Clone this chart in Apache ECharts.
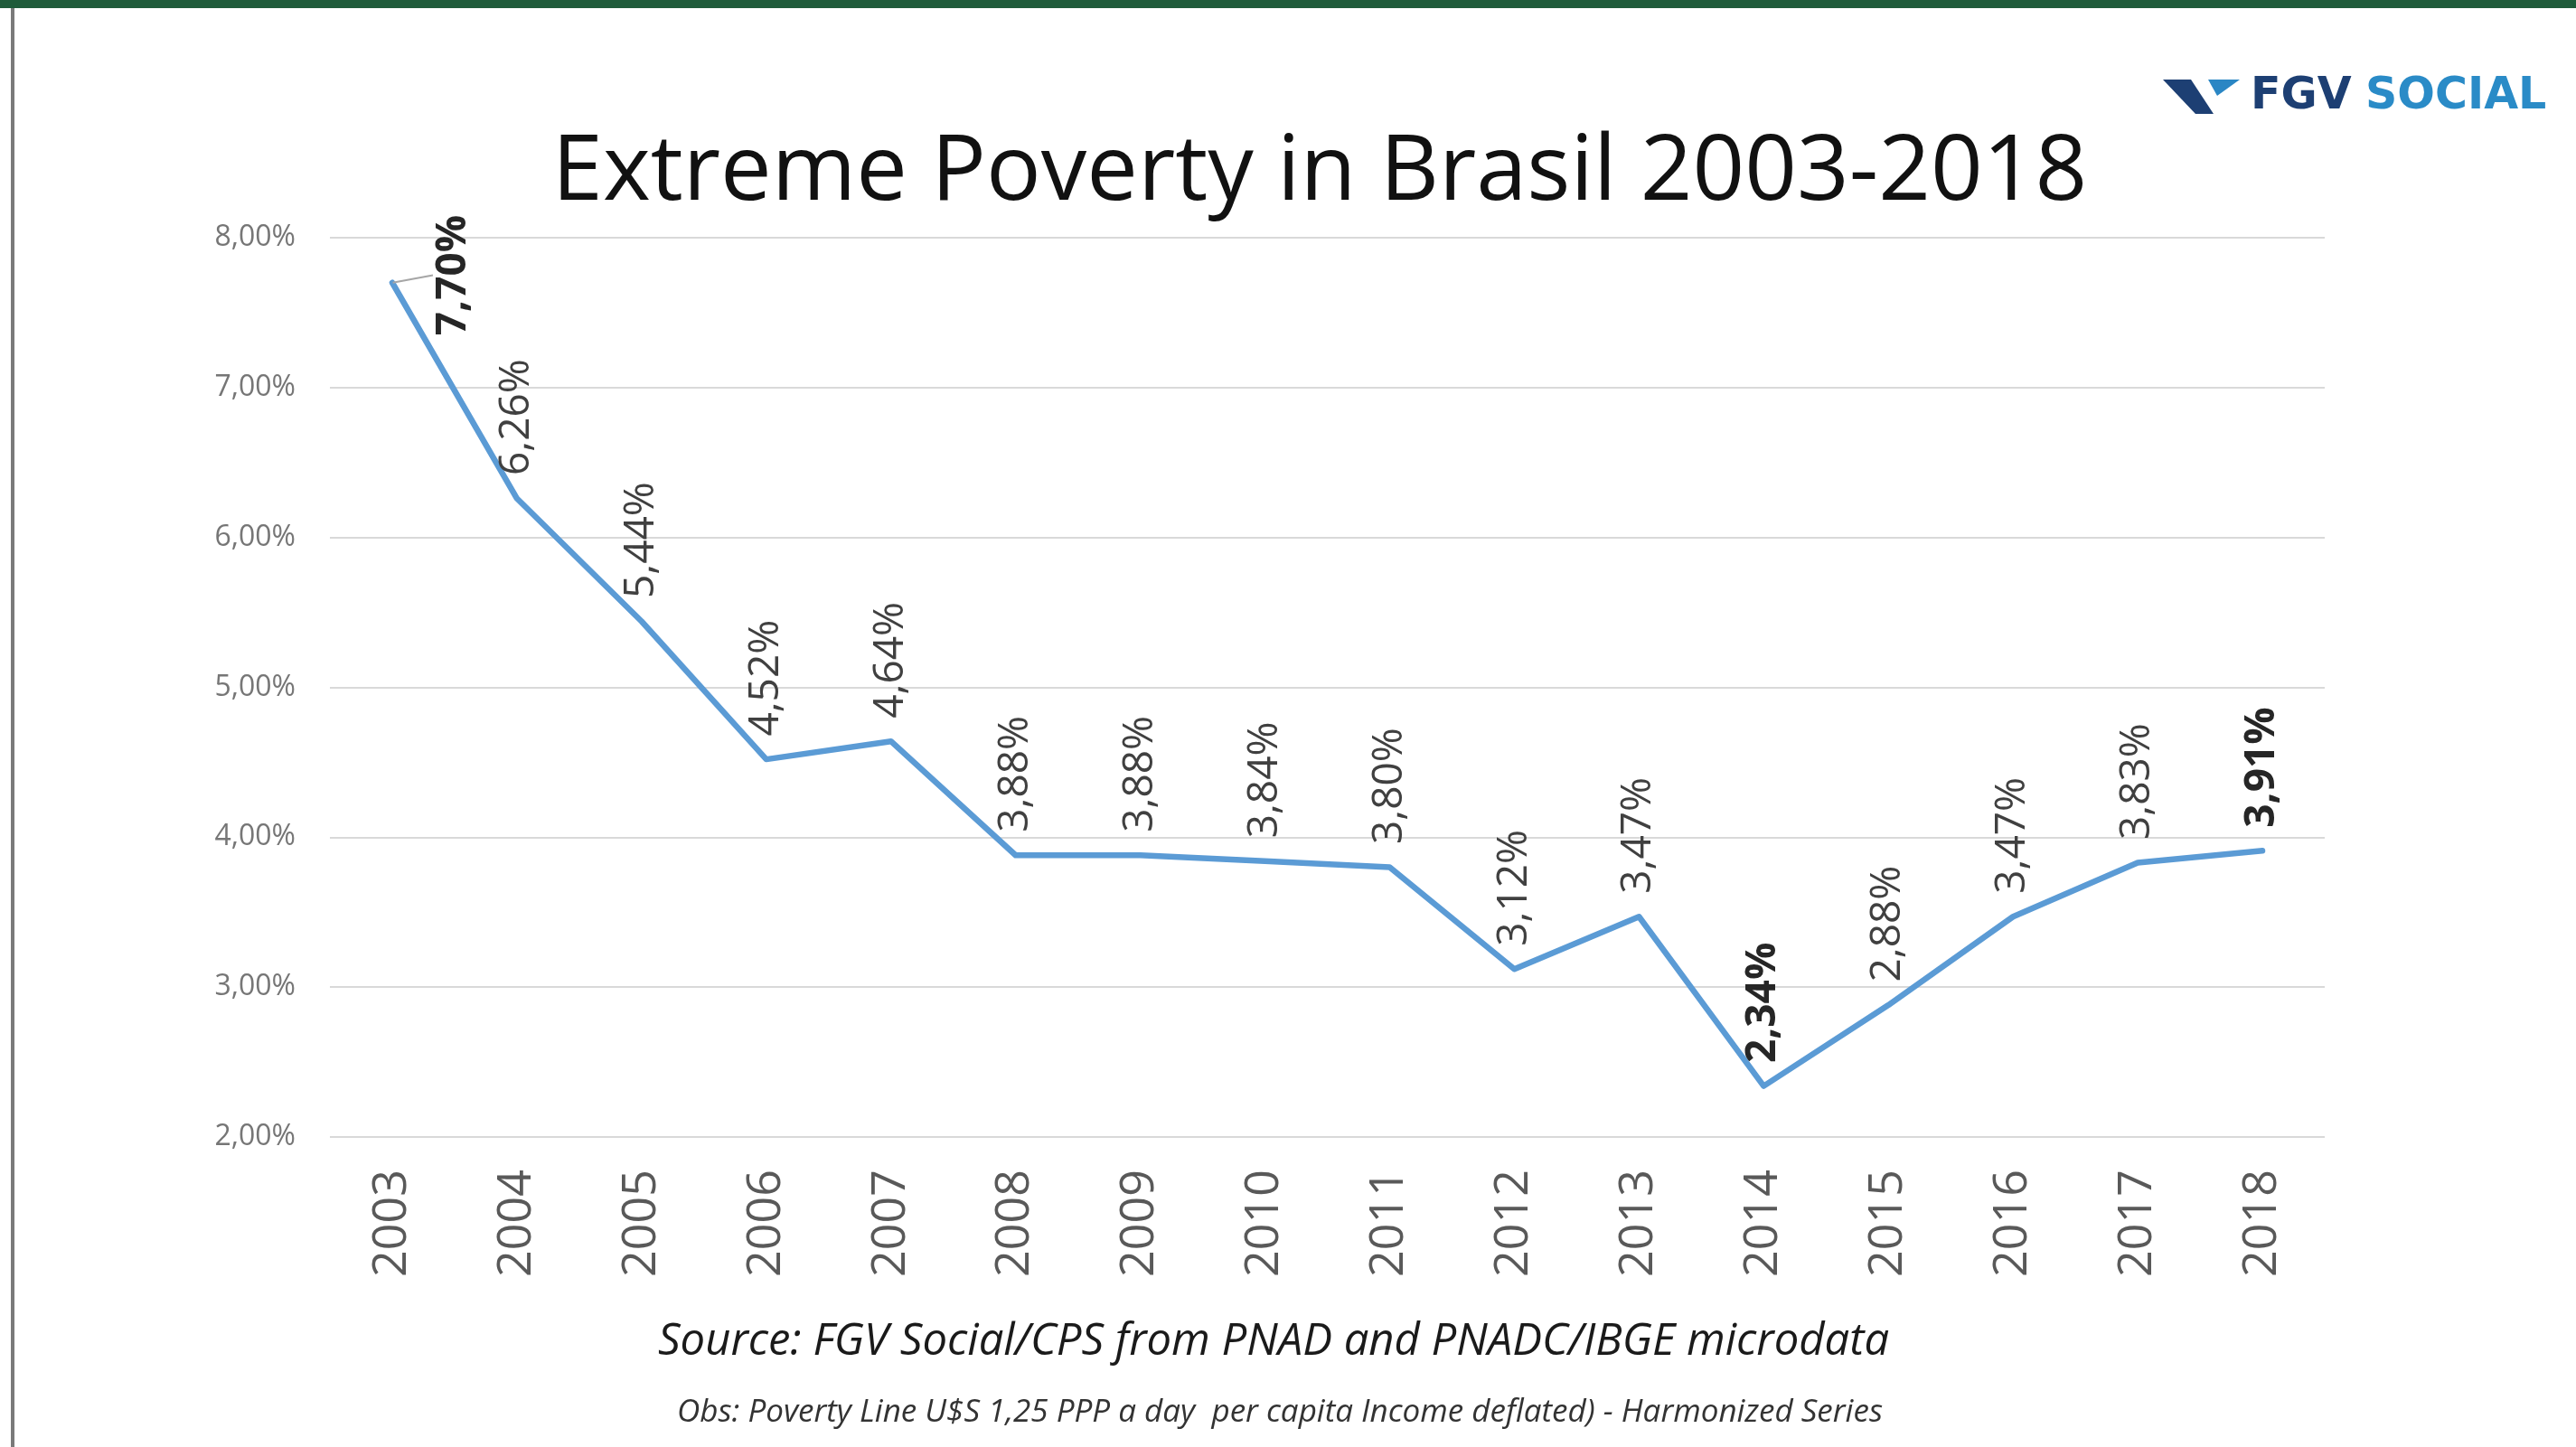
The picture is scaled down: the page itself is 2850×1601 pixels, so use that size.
<!DOCTYPE html>
<html>
<head>
<meta charset="utf-8">
<script src="https://cdn.jsdelivr.net/npm/echarts@6/dist/echarts.min.js"></script>
<style>
html,body{margin:0;padding:0;background:#fff;}
#chart{width:2850px;height:1601px;}
</style>
</head>
<body>
<div id="chart"></div>
<script>
const years = ['2003','2004','2005','2006','2007','2008','2009','2010','2011','2012','2013','2014','2015','2016','2017','2018'];
const poverty = [7.70, 6.26, 5.44, 4.52, 4.64, 3.88, 3.88, 3.84, 3.80, 3.12, 3.47, 2.34, 2.88, 3.47, 3.83, 3.91];
const boldLabels = [0, 11, 15];
const yTicks = [2, 3, 4, 5, 6, 7, 8];

const titleText = 'Extreme Poverty in Brasil 2003-2018';
const sourceText = 'Source: FGV Social/CPS from PNAD and PNADC/IBGE microdata';
const obsText = 'Obs: Poverty Line U$S 1,25 PPP a day  per capita Income deflated) - Harmonized Series';

const fmt = v => v.toFixed(2).replace('.', ',') + '%';

const seriesData = poverty.map((v, i) => {
  const item = { value: v };
  if (boldLabels.indexOf(i) >= 0) {
    item.label = { fontWeight: 'bold', color: '#262626' };
  }
  if (i === 0) {
    item.labelLine = { show: true, smooth: 0.8, lineStyle: { color: '#a6a6a6', width: 2 } };
  }
  return item;
});

const chart = echarts.init(document.getElementById('chart'), null, { renderer: 'canvas' });
chart.setOption({
  backgroundColor: '#ffffff',
  animation: false,
  grid: { left: 365, right: 278, top: 263, bottom: 343, containLabel: false },
  xAxis: {
    type: 'category',
    data: years,
    boundaryGap: true,
    axisLine: { show: false },
    axisTick: { show: false },
    axisLabel: {
      rotate: 90,
      margin: 36,
      fontFamily: 'Open Sans',
      fontSize: 52,
      color: '#595959'
    }
  },
  yAxis: {
    type: 'value',
    min: yTicks[0],
    max: yTicks[yTicks.length - 1],
    interval: 1,
    axisLine: { show: false },
    axisTick: { show: false },
    splitLine: { show: true, lineStyle: { color: '#d9d9d9', width: 2 } },
    axisLabel: {
      margin: 38,
      fontFamily: 'Open Sans',
      fontSize: 32,
      color: '#767676',
      formatter: v => fmt(v)
    }
  },
  series: [{
    type: 'line',
    data: seriesData,
    symbol: 'circle',
    symbolSize: 1,
    showSymbol: true,
    lineStyle: { color: '#5b9bd5', width: 6.5, cap: 'round', join: 'round' },
    itemStyle: { color: '#5b9bd5' },
    labelLine: { show: false },
    label: {
      show: true,
      position: 'top',
      distance: 25,
      rotate: 90,
      align: 'left',
      verticalAlign: 'middle',
      fontFamily: 'Open Sans',
      fontSize: 46,
      color: '#404040',
      formatter: p => fmt(p.value)
    },
    labelLayout: function (p) {
      if (p.dataIndex === 0) {
        return { dx: -84, dy: 68 };
      }
      return {};
    }
  }],
  graphic: [
    { type: 'rect', left: 0, top: 0, shape: { width: 2850, height: 9 }, style: { fill: '#1f5b3a' }, silent: true },
    { type: 'rect', left: 12, top: 9, shape: { width: 4, height: 1592 }, style: { fill: '#7a7a7a' }, silent: true },
    { type: 'text', x: 1460, y: 192, style: { text: titleText, font: '101px "Open Sans"', fill: '#111111', textAlign: 'center', textVerticalAlign: 'middle' } },
    { type: 'text', x: 1409, y: 1485, style: { text: sourceText, font: 'italic 49px "Open Sans"', fill: '#1a1a1a', textAlign: 'center', textVerticalAlign: 'middle' } },
    { type: 'text', x: 1416, y: 1563, style: { text: obsText, font: 'italic 35px "Open Sans"', fill: '#333333', textAlign: 'center', textVerticalAlign: 'middle' } },
    { type: 'polygon', shape: { points: [[2393, 88], [2424, 88], [2449, 126], [2429, 126]] }, style: { fill: '#1d3f73' } },
    { type: 'polygon', shape: { points: [[2443, 88], [2478, 88], [2453, 106]] }, style: { fill: '#2a86c4' } },
    { type: 'text', x: 2490, y: 107, style: { text: 'FGV', font: 'bold 49px "DejaVu Sans"', fill: '#1d3f73', textAlign: 'left', textVerticalAlign: 'middle' } },
    { type: 'text', x: 2617, y: 107, style: { text: 'SOCIAL', font: 'bold 49px "DejaVu Sans"', fill: '#2a8bc7', textAlign: 'left', textVerticalAlign: 'middle' } }
  ]
});
</script>
</body>
</html>
